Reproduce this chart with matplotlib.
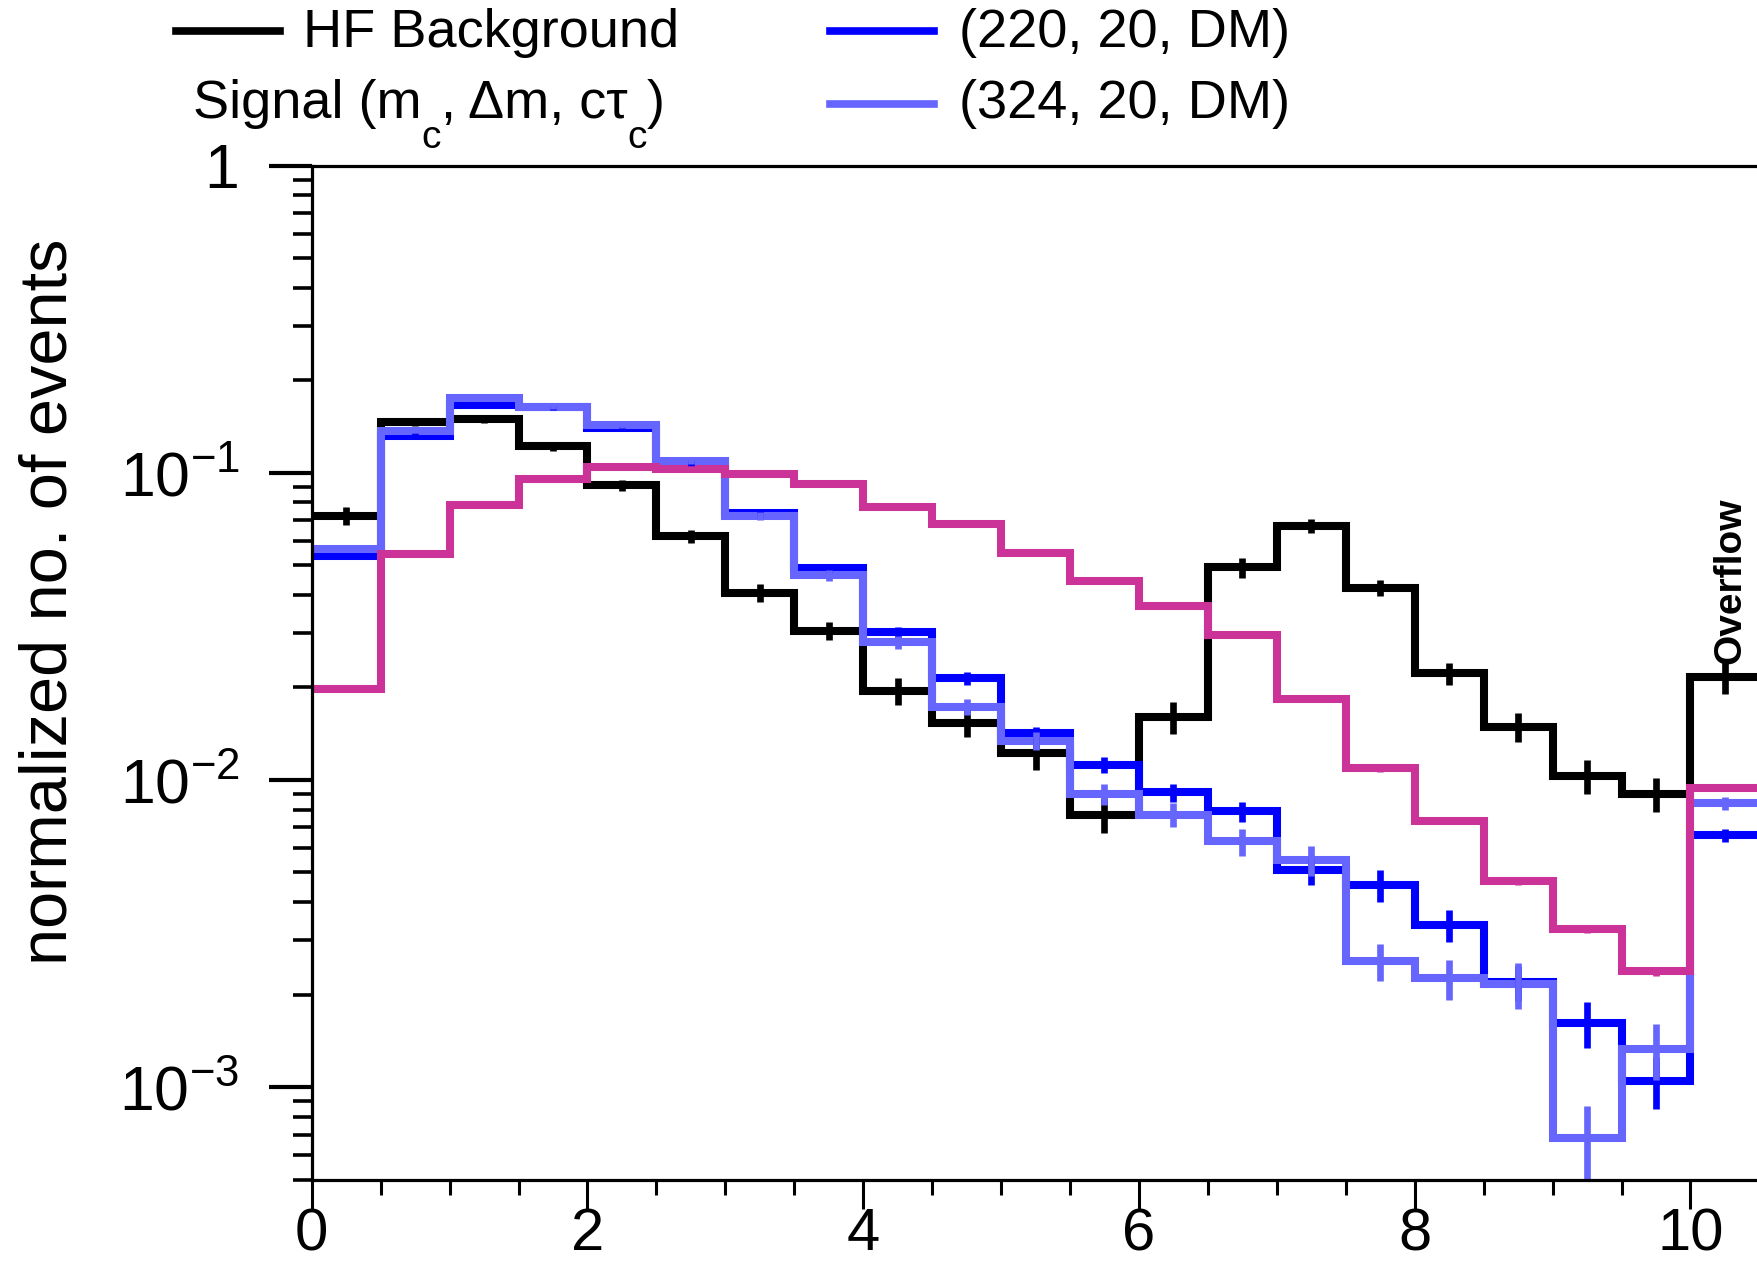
import numpy as np
import matplotlib
matplotlib.use("Agg")
import matplotlib.pyplot as plt
from matplotlib.lines import Line2D
from matplotlib.ticker import FixedLocator, FixedFormatter, LogLocator, NullFormatter, MultipleLocator

plt.rcParams["font.family"] = ["Liberation Sans", "DejaVu Sans"]
plt.rcParams["mathtext.fontset"] = "custom"
plt.rcParams["mathtext.rm"] = "Liberation Sans"
plt.rcParams["mathtext.it"] = "Liberation Sans:italic"
plt.rcParams["mathtext.bf"] = "Liberation Sans:bold"

# bin edges: 0..10 in steps of 0.5 plus the overflow bin 10..10.5
edges = np.arange(0, 10.51, 0.5)

bkg = [0.0724, 0.146, 0.149, 0.122, 0.091, 0.062, 0.0406, 0.0305, 0.0195, 0.0153,
       0.0122, 0.0077, 0.0160, 0.0492, 0.0671, 0.0422, 0.0222, 0.0149, 0.0103, 0.0090,
       0.0216]
bkg_rel = [0.067, 0.025, 0.025, 0.034, 0.042, 0.05, 0.067, 0.067, 0.10, 0.10,
           0.12, 0.13, 0.12, 0.075, 0.05, 0.06, 0.085, 0.11, 0.13, 0.13,
           0.12]

sig220 = [0.0535, 0.1316, 0.1667, 0.163, 0.1396, 0.1076, 0.0737, 0.0488, 0.0302, 0.0214,
          0.0142, 0.0112, 0.0091, 0.0079, 0.00507, 0.00455, 0.00336, 0.00219, 0.00162, 0.00105,
          0.00659]
sig220_rel = [0.025, 0.02, 0.02, 0.02, 0.02, 0.025, 0.034, 0.034, 0.042, 0.05,
              0.05, 0.06, 0.067, 0.075, 0.10, 0.12, 0.12, 0.13, 0.17, 0.19,
              0.05]

sig324 = [0.0563, 0.137, 0.175, 0.164, 0.143, 0.109, 0.0724, 0.0464, 0.0280, 0.0173,
          0.0134, 0.0090, 0.0077, 0.0063, 0.00547, 0.00257, 0.00226, 0.00217, 0.00068, 0.00133,
          0.0084]
sig324_rel = [0.02, 0.02, 0.02, 0.02, 0.02, 0.02, 0.03, 0.04, 0.05, 0.06,
              0.07, 0.08, 0.09, 0.10, 0.11, 0.14, 0.15, 0.17, 0.28, 0.21,
              0.05]

sig_mag = [0.0197, 0.0544, 0.0782, 0.0957, 0.104, 0.103, 0.099, 0.0917, 0.0775, 0.0683,
           0.0549, 0.0445, 0.0367, 0.0297, 0.0184, 0.0109, 0.00734, 0.00467, 0.00328, 0.00238,
           0.0094]
sig_mag_rel = [0.02] * 15 + [0.025, 0.025, 0.03, 0.03, 0.035, 0.02]

series = [
    (bkg, bkg_rel, "#000000"),
    (sig220, sig220_rel, "#0000FF"),
    (sig324, sig324_rel, "#6666FF"),
    (sig_mag, sig_mag_rel, "#CC3399"),
]

W, H = 1758, 1263
fig = plt.figure(figsize=(W / 100, H / 100), dpi=100)
left, top, bottom = 311.7, 165.5, 1179.5
ax = fig.add_axes([left / W, 1 - bottom / H, 1 - left / W, (bottom - top) / H])

centers = 0.5 * (edges[:-1] + edges[1:])
for vals, rel, col in series:
    vals = np.array(vals)
    st = ax.stairs(vals, edges, baseline=None, color=col, linewidth=5.8)
    st.set_joinstyle("miter")
    st.set_capstyle("projecting")
    ax.errorbar(centers, vals, yerr=vals * np.array(rel), fmt="none",
                ecolor=col, elinewidth=4.8, capsize=0)

ax.set_yscale("log")
ax.set_xlim(0, 10.49)
ax.set_ylim(5e-4, 1)

ax.yaxis.set_major_locator(FixedLocator([1e-3, 1e-2, 1e-1, 1]))
ax.yaxis.set_major_formatter(FixedFormatter([r"$\mathregular{10^{-3}}$",
                                             r"$\mathregular{10^{-2}}$",
                                             r"$\mathregular{10^{-1}}$", "1"]))
ax.yaxis.set_minor_locator(LogLocator(base=10, subs=np.arange(2, 10)))
ax.yaxis.set_minor_formatter(NullFormatter())
ax.xaxis.set_major_locator(FixedLocator([0, 2, 4, 6, 8, 10]))
ax.xaxis.set_minor_locator(MultipleLocator(0.5))

ax.tick_params(axis="y", which="major", length=31, width=3, pad=21, labelsize=45, direction="out")
ax.tick_params(axis="y", which="minor", length=14, width=2.6, direction="out")
ax.tick_params(axis="x", which="major", length=21, width=2.2, pad=-1, labelsize=43, direction="out")
ax.tick_params(axis="x", which="minor", length=11, width=2.2, direction="out")

for s in ["left", "bottom", "top"]:
    ax.spines[s].set_linewidth(2.3)
ax.spines["right"].set_visible(False)

ax.text(10.29, 0.0238, "Overflow", rotation=90, ha="center", va="bottom",
        fontsize=28, fontweight="bold")

fig.text(50 / W, 1 - 602 / H, "normalized no. of events", rotation=90,
         ha="center", va="center", fontsize=48)

# legend drawn in figure coordinates (pixels from top-left)
renderer = fig.canvas.get_renderer()
leg_size = 39


def leg_line(x0, x1, y, col):
    fig.add_artist(Line2D([x0 / W, x1 / W], [1 - y / H, 1 - y / H], color=col,
                          linewidth=5.5, transform=fig.transFigure))


def seq_text(x, y, pieces):
    for s, size, dy in pieces:
        t = fig.text(x / W, 1 - (y + dy) / H, s, fontsize=size, ha="left", va="baseline")
        x += t.get_window_extent(renderer).width


leg_line(176, 280, 31, "#000000")
fig.text(303 / W, 1 - 47 / H, "HF Background", ha="left", va="baseline", fontsize=leg_size)
seq_text(193, 118, [("Signal (m", leg_size, 0), ("c", 28, 30), (", Δm, cτ", leg_size, 0),
                    ("c", 28, 30), (")", leg_size, 0)])
leg_line(830, 934, 31, "#0000FF")
fig.text(959 / W, 1 - 47 / H, "(220, 20, DM)", ha="left", va="baseline", fontsize=leg_size)
leg_line(830, 934, 104, "#6666FF")
fig.text(959 / W, 1 - 118 / H, "(324, 20, DM)", ha="left", va="baseline", fontsize=leg_size)

fig.savefig("out.png", dpi=100)
